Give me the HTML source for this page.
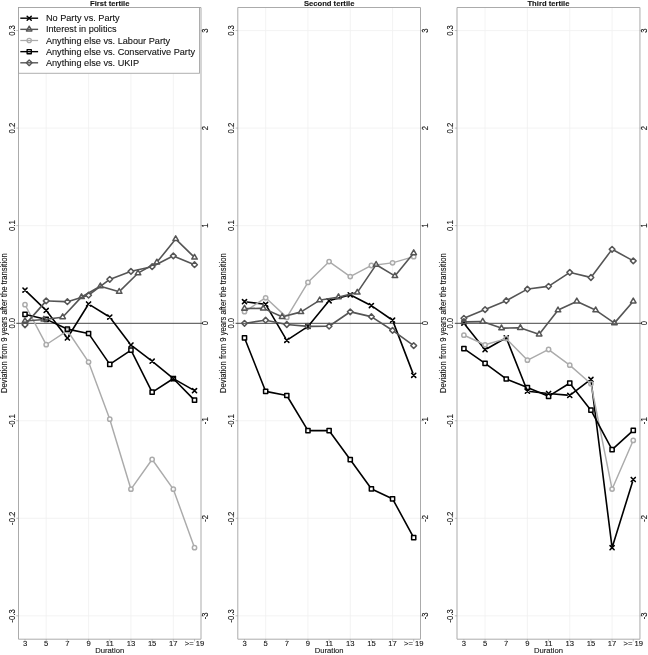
<!DOCTYPE html><html><head><meta charset="utf-8"><title>Tertiles</title><style>html,body{margin:0;padding:0;background:#fff}svg{display:block}</style></head><body><svg width="648" height="655" viewBox="0 0 648 655" font-family="Liberation Sans, sans-serif" font-size="7.65" fill="#111" stroke="#111" stroke-width="0.1">
<rect width="648" height="655" fill="#fff" stroke="none"/>
<line x1="46.19" x2="46.19" y1="7.5" y2="639.2" stroke="#f0f0f0" stroke-width="0.8"/>
<line x1="88.57" x2="88.57" y1="7.5" y2="639.2" stroke="#f0f0f0" stroke-width="0.8"/>
<line x1="130.95" x2="130.95" y1="7.5" y2="639.2" stroke="#f0f0f0" stroke-width="0.8"/>
<line x1="173.33" x2="173.33" y1="7.5" y2="639.2" stroke="#f0f0f0" stroke-width="0.8"/>
<line x1="18.5" x2="201.0" y1="615.85" y2="615.85" stroke="#f0f0f0" stroke-width="0.8"/>
<line x1="18.5" x2="201.0" y1="518.30" y2="518.30" stroke="#f0f0f0" stroke-width="0.8"/>
<line x1="18.5" x2="201.0" y1="420.75" y2="420.75" stroke="#f0f0f0" stroke-width="0.8"/>
<line x1="18.5" x2="201.0" y1="225.65" y2="225.65" stroke="#f0f0f0" stroke-width="0.8"/>
<line x1="18.5" x2="201.0" y1="128.10" y2="128.10" stroke="#f0f0f0" stroke-width="0.8"/>
<line x1="18.5" x2="201.0" y1="30.55" y2="30.55" stroke="#f0f0f0" stroke-width="0.8"/>
<path d="M18.5 639.2L18.5 7.5L201.0 7.5L201.0 639.2Z" stroke="#ababab" stroke-width="1" fill="none"/>
<line x1="16.3" x2="202.8" y1="323.3" y2="323.3" stroke="#3c3c3c" stroke-width="0.95"/>
<line x1="16.3" x2="18.5" y1="615.85" y2="615.85" stroke="#999" stroke-width="0.6"/>
<line x1="201.0" x2="203.0" y1="615.85" y2="615.85" stroke="#999" stroke-width="0.6"/>
<text transform="translate(14.50 615.85) rotate(-90) scale(1 1.2)" text-anchor="middle">-0.3</text>
<text transform="translate(208.30 615.85) rotate(-90) scale(1 1.2)" text-anchor="middle">-3</text>
<line x1="16.3" x2="18.5" y1="518.30" y2="518.30" stroke="#999" stroke-width="0.6"/>
<line x1="201.0" x2="203.0" y1="518.30" y2="518.30" stroke="#999" stroke-width="0.6"/>
<text transform="translate(14.50 518.30) rotate(-90) scale(1 1.2)" text-anchor="middle">-0.2</text>
<text transform="translate(208.30 518.30) rotate(-90) scale(1 1.2)" text-anchor="middle">-2</text>
<line x1="16.3" x2="18.5" y1="420.75" y2="420.75" stroke="#999" stroke-width="0.6"/>
<line x1="201.0" x2="203.0" y1="420.75" y2="420.75" stroke="#999" stroke-width="0.6"/>
<text transform="translate(14.50 420.75) rotate(-90) scale(1 1.2)" text-anchor="middle">-0.1</text>
<text transform="translate(208.30 420.75) rotate(-90) scale(1 1.2)" text-anchor="middle">-1</text>
<text transform="translate(14.50 323.20) rotate(-90) scale(1 1.2)" text-anchor="middle">0.0</text>
<text transform="translate(208.30 323.20) rotate(-90) scale(1 1.2)" text-anchor="middle">0</text>
<line x1="16.3" x2="18.5" y1="225.65" y2="225.65" stroke="#999" stroke-width="0.6"/>
<line x1="201.0" x2="203.0" y1="225.65" y2="225.65" stroke="#999" stroke-width="0.6"/>
<text transform="translate(14.50 225.65) rotate(-90) scale(1 1.2)" text-anchor="middle">0.1</text>
<text transform="translate(208.30 225.65) rotate(-90) scale(1 1.2)" text-anchor="middle">1</text>
<line x1="16.3" x2="18.5" y1="128.10" y2="128.10" stroke="#999" stroke-width="0.6"/>
<line x1="201.0" x2="203.0" y1="128.10" y2="128.10" stroke="#999" stroke-width="0.6"/>
<text transform="translate(14.50 128.10) rotate(-90) scale(1 1.2)" text-anchor="middle">0.2</text>
<text transform="translate(208.30 128.10) rotate(-90) scale(1 1.2)" text-anchor="middle">2</text>
<line x1="16.3" x2="18.5" y1="30.55" y2="30.55" stroke="#999" stroke-width="0.6"/>
<line x1="201.0" x2="203.0" y1="30.55" y2="30.55" stroke="#999" stroke-width="0.6"/>
<text transform="translate(14.50 30.55) rotate(-90) scale(1 1.2)" text-anchor="middle">0.3</text>
<text transform="translate(208.30 30.55) rotate(-90) scale(1 1.2)" text-anchor="middle">3</text>
<text transform="translate(7.10 323.20) rotate(-90) scale(1 1.2)" text-anchor="middle">Deviation from 9 years after the transition</text>
<text x="25.00" y="646" text-anchor="middle">3</text>
<line x1="25.00" x2="25.00" y1="639.2" y2="641.4000000000001" stroke="#999" stroke-width="0.6"/>
<text x="46.19" y="646" text-anchor="middle">5</text>
<line x1="46.19" x2="46.19" y1="639.2" y2="641.4000000000001" stroke="#999" stroke-width="0.6"/>
<text x="67.38" y="646" text-anchor="middle">7</text>
<line x1="67.38" x2="67.38" y1="639.2" y2="641.4000000000001" stroke="#999" stroke-width="0.6"/>
<text x="88.57" y="646" text-anchor="middle">9</text>
<line x1="88.57" x2="88.57" y1="639.2" y2="641.4000000000001" stroke="#999" stroke-width="0.6"/>
<text x="109.76" y="646" text-anchor="middle">11</text>
<line x1="109.76" x2="109.76" y1="639.2" y2="641.4000000000001" stroke="#999" stroke-width="0.6"/>
<text x="130.95" y="646" text-anchor="middle">13</text>
<line x1="130.95" x2="130.95" y1="639.2" y2="641.4000000000001" stroke="#999" stroke-width="0.6"/>
<text x="152.14" y="646" text-anchor="middle">15</text>
<line x1="152.14" x2="152.14" y1="639.2" y2="641.4000000000001" stroke="#999" stroke-width="0.6"/>
<text x="173.33" y="646" text-anchor="middle">17</text>
<line x1="173.33" x2="173.33" y1="639.2" y2="641.4000000000001" stroke="#999" stroke-width="0.6"/>
<text x="194.52" y="646" text-anchor="middle">&gt;= 19</text>
<line x1="194.52" x2="194.52" y1="639.2" y2="641.4000000000001" stroke="#999" stroke-width="0.6"/>
<text x="109.75" y="653.3" text-anchor="middle">Duration</text>
<text x="109.75" y="6.3" text-anchor="middle" font-weight="bold" fill="#111">First tertile</text>
<path d="M26.88 291.90L44.31 308.60M47.77 312.46L65.80 335.94M68.76 335.79L87.19 306.21M90.78 305.37L107.55 315.73M111.33 319.17L129.38 342.93M133.02 346.58L150.07 359.62M154.15 362.85L171.32 376.95M175.59 379.89L192.26 389.41" fill="none" stroke="#000" stroke-width="1.6" stroke-linecap="round"/>
<path d="M22.95 288.05L27.05 292.15M22.95 292.15L27.05 288.05" stroke="#000" stroke-width="1.6" stroke-linecap="round" fill="none"/>
<path d="M44.14 308.35L48.24 312.45M44.14 312.45L48.24 308.35" stroke="#000" stroke-width="1.6" stroke-linecap="round" fill="none"/>
<path d="M65.33 335.95L69.43 340.05M65.33 340.05L69.43 335.95" stroke="#000" stroke-width="1.6" stroke-linecap="round" fill="none"/>
<path d="M86.52 301.95L90.62 306.05M86.52 306.05L90.62 301.95" stroke="#000" stroke-width="1.6" stroke-linecap="round" fill="none"/>
<path d="M107.71 315.05L111.81 319.15M107.71 319.15L111.81 315.05" stroke="#000" stroke-width="1.6" stroke-linecap="round" fill="none"/>
<path d="M128.90 342.95L133.00 347.05M128.90 347.05L133.00 342.95" stroke="#000" stroke-width="1.6" stroke-linecap="round" fill="none"/>
<path d="M150.09 359.15L154.19 363.25M150.09 363.25L154.19 359.15" stroke="#000" stroke-width="1.6" stroke-linecap="round" fill="none"/>
<path d="M171.28 376.55L175.38 380.65M171.28 380.65L175.38 376.55" stroke="#000" stroke-width="1.6" stroke-linecap="round" fill="none"/>
<path d="M192.47 388.65L196.57 392.75M192.47 392.75L196.57 388.65" stroke="#000" stroke-width="1.6" stroke-linecap="round" fill="none"/>
<path d="M26.22 307.00L44.97 342.40M48.35 343.26L65.22 332.04M68.83 332.76L87.12 359.94M89.47 364.54L108.86 416.76M110.51 421.69L130.20 486.71M132.46 487.08L150.63 461.52M153.65 461.52L171.82 487.08M174.22 491.64L193.63 545.26" fill="none" stroke="#ababab" stroke-width="1.45" stroke-linecap="round"/>
<circle cx="25.00" cy="304.70" r="2.15" stroke="#ababab" stroke-width="1.5" fill="none"/>
<circle cx="46.19" cy="344.70" r="2.15" stroke="#ababab" stroke-width="1.5" fill="none"/>
<circle cx="67.38" cy="330.60" r="2.15" stroke="#ababab" stroke-width="1.5" fill="none"/>
<circle cx="88.57" cy="362.10" r="2.15" stroke="#ababab" stroke-width="1.5" fill="none"/>
<circle cx="109.76" cy="419.20" r="2.15" stroke="#ababab" stroke-width="1.5" fill="none"/>
<circle cx="130.95" cy="489.20" r="2.15" stroke="#ababab" stroke-width="1.5" fill="none"/>
<circle cx="152.14" cy="459.40" r="2.15" stroke="#ababab" stroke-width="1.5" fill="none"/>
<circle cx="173.33" cy="489.20" r="2.15" stroke="#ababab" stroke-width="1.5" fill="none"/>
<circle cx="194.52" cy="547.70" r="2.15" stroke="#ababab" stroke-width="1.5" fill="none"/>
<path d="M27.53 314.99L43.66 318.71M48.55 320.39L65.02 328.01M69.93 329.63L86.02 332.97M90.04 335.64L108.29 362.16M111.92 362.85L128.79 351.55M132.12 352.42L150.97 389.88M154.33 390.80L171.14 380.00M175.15 380.46L192.70 398.34" fill="none" stroke="#000" stroke-width="1.6" stroke-linecap="round"/>
<rect x="22.92" y="312.32" width="4.17" height="4.17" stroke="#000" stroke-width="1.5" stroke-linejoin="round" fill="none"/>
<rect x="44.11" y="317.22" width="4.17" height="4.17" stroke="#000" stroke-width="1.5" stroke-linejoin="round" fill="none"/>
<rect x="65.30" y="327.02" width="4.17" height="4.17" stroke="#000" stroke-width="1.5" stroke-linejoin="round" fill="none"/>
<rect x="86.49" y="331.42" width="4.17" height="4.17" stroke="#000" stroke-width="1.5" stroke-linejoin="round" fill="none"/>
<rect x="107.68" y="362.22" width="4.17" height="4.17" stroke="#000" stroke-width="1.5" stroke-linejoin="round" fill="none"/>
<rect x="128.87" y="348.02" width="4.17" height="4.17" stroke="#000" stroke-width="1.5" stroke-linejoin="round" fill="none"/>
<rect x="150.06" y="390.12" width="4.17" height="4.17" stroke="#000" stroke-width="1.5" stroke-linejoin="round" fill="none"/>
<rect x="171.25" y="376.52" width="4.17" height="4.17" stroke="#000" stroke-width="1.5" stroke-linejoin="round" fill="none"/>
<rect x="192.44" y="398.12" width="4.17" height="4.17" stroke="#000" stroke-width="1.5" stroke-linejoin="round" fill="none"/>
<path d="M26.72 322.85L44.47 302.85M48.79 301.00L64.78 301.60M69.87 300.94L86.08 295.96M90.65 293.64L107.68 280.86M112.20 278.39L128.51 272.31M133.49 270.84L149.60 267.26M154.46 265.52L171.01 257.08M175.73 256.90L192.12 263.70" fill="none" stroke="#555" stroke-width="1.6" stroke-linecap="round"/>
<path d="M25.00 321.95L27.85 324.80L25.00 327.65L22.15 324.80Z" stroke="#555" stroke-width="1.5" stroke-linejoin="round" fill="none"/>
<path d="M46.19 298.05L49.04 300.90L46.19 303.75L43.34 300.90Z" stroke="#555" stroke-width="1.5" stroke-linejoin="round" fill="none"/>
<path d="M67.38 298.85L70.23 301.70L67.38 304.55L64.53 301.70Z" stroke="#555" stroke-width="1.5" stroke-linejoin="round" fill="none"/>
<path d="M88.57 292.35L91.42 295.20L88.57 298.05L85.72 295.20Z" stroke="#555" stroke-width="1.5" stroke-linejoin="round" fill="none"/>
<path d="M109.76 276.45L112.61 279.30L109.76 282.15L106.91 279.30Z" stroke="#555" stroke-width="1.5" stroke-linejoin="round" fill="none"/>
<path d="M130.95 268.55L133.80 271.40L130.95 274.25L128.10 271.40Z" stroke="#555" stroke-width="1.5" stroke-linejoin="round" fill="none"/>
<path d="M152.14 263.85L154.99 266.70L152.14 269.55L149.29 266.70Z" stroke="#555" stroke-width="1.5" stroke-linejoin="round" fill="none"/>
<path d="M173.33 253.05L176.18 255.90L173.33 258.75L170.48 255.90Z" stroke="#555" stroke-width="1.5" stroke-linejoin="round" fill="none"/>
<path d="M194.52 261.85L197.37 264.70L194.52 267.55L191.67 264.70Z" stroke="#555" stroke-width="1.5" stroke-linejoin="round" fill="none"/>
<path d="M27.59 320.79L41.24 319.71M46.41 319.17L60.09 317.43M64.45 315.20L79.73 298.90M83.76 295.71L98.09 287.49M102.84 286.93L116.68 290.97M121.03 289.88L136.16 275.02M140.27 271.91L154.59 263.69M158.48 260.37L174.05 241.03M177.54 240.82L192.67 255.68" fill="none" stroke="#555" stroke-width="1.6" stroke-linecap="round"/>
<path d="M25.00 317.80L27.77 322.60L22.23 322.60Z" stroke="#555" stroke-width="1.5" stroke-linejoin="round" fill="none"/>
<path d="M43.84 316.30L46.61 321.10L41.06 321.10Z" stroke="#555" stroke-width="1.5" stroke-linejoin="round" fill="none"/>
<path d="M62.67 313.90L65.44 318.70L59.90 318.70Z" stroke="#555" stroke-width="1.5" stroke-linejoin="round" fill="none"/>
<path d="M81.51 293.80L84.28 298.60L78.74 298.60Z" stroke="#555" stroke-width="1.5" stroke-linejoin="round" fill="none"/>
<path d="M100.34 283.00L103.11 287.80L97.57 287.80Z" stroke="#555" stroke-width="1.5" stroke-linejoin="round" fill="none"/>
<path d="M119.18 288.50L121.95 293.30L116.41 293.30Z" stroke="#555" stroke-width="1.5" stroke-linejoin="round" fill="none"/>
<path d="M138.01 270.00L140.78 274.80L135.24 274.80Z" stroke="#555" stroke-width="1.5" stroke-linejoin="round" fill="none"/>
<path d="M156.85 259.20L159.62 264.00L154.08 264.00Z" stroke="#555" stroke-width="1.5" stroke-linejoin="round" fill="none"/>
<path d="M175.68 235.80L178.46 240.60L172.91 240.60Z" stroke="#555" stroke-width="1.5" stroke-linejoin="round" fill="none"/>
<path d="M194.52 254.30L197.29 259.10L191.75 259.10Z" stroke="#555" stroke-width="1.5" stroke-linejoin="round" fill="none"/>
<line x1="265.65" x2="265.65" y1="7.5" y2="639.2" stroke="#f0f0f0" stroke-width="0.8"/>
<line x1="307.95" x2="307.95" y1="7.5" y2="639.2" stroke="#f0f0f0" stroke-width="0.8"/>
<line x1="350.25" x2="350.25" y1="7.5" y2="639.2" stroke="#f0f0f0" stroke-width="0.8"/>
<line x1="392.55" x2="392.55" y1="7.5" y2="639.2" stroke="#f0f0f0" stroke-width="0.8"/>
<line x1="237.8" x2="420.5" y1="615.85" y2="615.85" stroke="#f0f0f0" stroke-width="0.8"/>
<line x1="237.8" x2="420.5" y1="518.30" y2="518.30" stroke="#f0f0f0" stroke-width="0.8"/>
<line x1="237.8" x2="420.5" y1="420.75" y2="420.75" stroke="#f0f0f0" stroke-width="0.8"/>
<line x1="237.8" x2="420.5" y1="225.65" y2="225.65" stroke="#f0f0f0" stroke-width="0.8"/>
<line x1="237.8" x2="420.5" y1="128.10" y2="128.10" stroke="#f0f0f0" stroke-width="0.8"/>
<line x1="237.8" x2="420.5" y1="30.55" y2="30.55" stroke="#f0f0f0" stroke-width="0.8"/>
<path d="M237.8 639.2L237.8 7.5L420.5 7.5L420.5 639.2Z" stroke="#ababab" stroke-width="1" fill="none"/>
<line x1="235.60000000000002" x2="422.3" y1="323.3" y2="323.3" stroke="#3c3c3c" stroke-width="0.95"/>
<line x1="235.60000000000002" x2="237.8" y1="615.85" y2="615.85" stroke="#999" stroke-width="0.6"/>
<line x1="420.5" x2="422.5" y1="615.85" y2="615.85" stroke="#999" stroke-width="0.6"/>
<text transform="translate(233.80 615.85) rotate(-90) scale(1 1.2)" text-anchor="middle">-0.3</text>
<text transform="translate(427.80 615.85) rotate(-90) scale(1 1.2)" text-anchor="middle">-3</text>
<line x1="235.60000000000002" x2="237.8" y1="518.30" y2="518.30" stroke="#999" stroke-width="0.6"/>
<line x1="420.5" x2="422.5" y1="518.30" y2="518.30" stroke="#999" stroke-width="0.6"/>
<text transform="translate(233.80 518.30) rotate(-90) scale(1 1.2)" text-anchor="middle">-0.2</text>
<text transform="translate(427.80 518.30) rotate(-90) scale(1 1.2)" text-anchor="middle">-2</text>
<line x1="235.60000000000002" x2="237.8" y1="420.75" y2="420.75" stroke="#999" stroke-width="0.6"/>
<line x1="420.5" x2="422.5" y1="420.75" y2="420.75" stroke="#999" stroke-width="0.6"/>
<text transform="translate(233.80 420.75) rotate(-90) scale(1 1.2)" text-anchor="middle">-0.1</text>
<text transform="translate(427.80 420.75) rotate(-90) scale(1 1.2)" text-anchor="middle">-1</text>
<text transform="translate(233.80 323.20) rotate(-90) scale(1 1.2)" text-anchor="middle">0.0</text>
<text transform="translate(427.80 323.20) rotate(-90) scale(1 1.2)" text-anchor="middle">0</text>
<line x1="235.60000000000002" x2="237.8" y1="225.65" y2="225.65" stroke="#999" stroke-width="0.6"/>
<line x1="420.5" x2="422.5" y1="225.65" y2="225.65" stroke="#999" stroke-width="0.6"/>
<text transform="translate(233.80 225.65) rotate(-90) scale(1 1.2)" text-anchor="middle">0.1</text>
<text transform="translate(427.80 225.65) rotate(-90) scale(1 1.2)" text-anchor="middle">1</text>
<line x1="235.60000000000002" x2="237.8" y1="128.10" y2="128.10" stroke="#999" stroke-width="0.6"/>
<line x1="420.5" x2="422.5" y1="128.10" y2="128.10" stroke="#999" stroke-width="0.6"/>
<text transform="translate(233.80 128.10) rotate(-90) scale(1 1.2)" text-anchor="middle">0.2</text>
<text transform="translate(427.80 128.10) rotate(-90) scale(1 1.2)" text-anchor="middle">2</text>
<line x1="235.60000000000002" x2="237.8" y1="30.55" y2="30.55" stroke="#999" stroke-width="0.6"/>
<line x1="420.5" x2="422.5" y1="30.55" y2="30.55" stroke="#999" stroke-width="0.6"/>
<text transform="translate(233.80 30.55) rotate(-90) scale(1 1.2)" text-anchor="middle">0.3</text>
<text transform="translate(427.80 30.55) rotate(-90) scale(1 1.2)" text-anchor="middle">3</text>
<text transform="translate(226.40 323.20) rotate(-90) scale(1 1.2)" text-anchor="middle">Deviation from 9 years after the transition</text>
<text x="244.50" y="646" text-anchor="middle">3</text>
<line x1="244.50" x2="244.50" y1="639.2" y2="641.4000000000001" stroke="#999" stroke-width="0.6"/>
<text x="265.65" y="646" text-anchor="middle">5</text>
<line x1="265.65" x2="265.65" y1="639.2" y2="641.4000000000001" stroke="#999" stroke-width="0.6"/>
<text x="286.80" y="646" text-anchor="middle">7</text>
<line x1="286.80" x2="286.80" y1="639.2" y2="641.4000000000001" stroke="#999" stroke-width="0.6"/>
<text x="307.95" y="646" text-anchor="middle">9</text>
<line x1="307.95" x2="307.95" y1="639.2" y2="641.4000000000001" stroke="#999" stroke-width="0.6"/>
<text x="329.10" y="646" text-anchor="middle">11</text>
<line x1="329.10" x2="329.10" y1="639.2" y2="641.4000000000001" stroke="#999" stroke-width="0.6"/>
<text x="350.25" y="646" text-anchor="middle">13</text>
<line x1="350.25" x2="350.25" y1="639.2" y2="641.4000000000001" stroke="#999" stroke-width="0.6"/>
<text x="371.40" y="646" text-anchor="middle">15</text>
<line x1="371.40" x2="371.40" y1="639.2" y2="641.4000000000001" stroke="#999" stroke-width="0.6"/>
<text x="392.55" y="646" text-anchor="middle">17</text>
<line x1="392.55" x2="392.55" y1="639.2" y2="641.4000000000001" stroke="#999" stroke-width="0.6"/>
<text x="413.70" y="646" text-anchor="middle">&gt;= 19</text>
<line x1="413.70" x2="413.70" y1="639.2" y2="641.4000000000001" stroke="#999" stroke-width="0.6"/>
<text x="329.15" y="653.3" text-anchor="middle">Duration</text>
<text x="329.15" y="6.3" text-anchor="middle" font-weight="bold" fill="#111">Second tertile</text>
<path d="M247.08 302.02L263.07 303.98M266.97 306.54L285.48 338.06M288.97 338.87L305.78 327.83M309.61 324.40L327.44 302.80M331.60 300.09L347.75 295.51M352.57 295.98L369.08 304.42M373.54 307.08L390.41 318.72M393.48 322.63L412.77 372.87" fill="none" stroke="#000" stroke-width="1.6" stroke-linecap="round"/>
<path d="M242.45 299.65L246.55 303.75M242.45 303.75L246.55 299.65" stroke="#000" stroke-width="1.6" stroke-linecap="round" fill="none"/>
<path d="M263.60 302.25L267.70 306.35M263.60 306.35L267.70 302.25" stroke="#000" stroke-width="1.6" stroke-linecap="round" fill="none"/>
<path d="M284.75 338.25L288.85 342.35M284.75 342.35L288.85 338.25" stroke="#000" stroke-width="1.6" stroke-linecap="round" fill="none"/>
<path d="M305.90 324.35L310.00 328.45M305.90 328.45L310.00 324.35" stroke="#000" stroke-width="1.6" stroke-linecap="round" fill="none"/>
<path d="M327.05 298.75L331.15 302.85M327.05 302.85L331.15 298.75" stroke="#000" stroke-width="1.6" stroke-linecap="round" fill="none"/>
<path d="M348.20 292.75L352.30 296.85M348.20 296.85L352.30 292.75" stroke="#000" stroke-width="1.6" stroke-linecap="round" fill="none"/>
<path d="M369.35 303.55L373.45 307.65M369.35 307.65L373.45 303.55" stroke="#000" stroke-width="1.6" stroke-linecap="round" fill="none"/>
<path d="M390.50 318.15L394.60 322.25M390.50 322.25L394.60 318.15" stroke="#000" stroke-width="1.6" stroke-linecap="round" fill="none"/>
<path d="M411.65 373.25L415.75 377.35M411.65 377.35L415.75 373.25" stroke="#000" stroke-width="1.6" stroke-linecap="round" fill="none"/>
<path d="M246.67 310.27L263.48 299.23M267.56 299.57L284.89 315.63M288.14 315.17L306.61 284.63M309.80 280.58L327.25 263.42M331.22 263.10L348.13 275.10M352.55 275.39L369.10 266.71M373.98 265.17L389.97 263.13M395.05 262.08L411.20 257.42" fill="none" stroke="#ababab" stroke-width="1.45" stroke-linecap="round"/>
<circle cx="244.50" cy="311.70" r="2.15" stroke="#ababab" stroke-width="1.5" fill="none"/>
<circle cx="265.65" cy="297.80" r="2.15" stroke="#ababab" stroke-width="1.5" fill="none"/>
<circle cx="286.80" cy="317.40" r="2.15" stroke="#ababab" stroke-width="1.5" fill="none"/>
<circle cx="307.95" cy="282.40" r="2.15" stroke="#ababab" stroke-width="1.5" fill="none"/>
<circle cx="329.10" cy="261.60" r="2.15" stroke="#ababab" stroke-width="1.5" fill="none"/>
<circle cx="350.25" cy="276.60" r="2.15" stroke="#ababab" stroke-width="1.5" fill="none"/>
<circle cx="371.40" cy="265.50" r="2.15" stroke="#ababab" stroke-width="1.5" fill="none"/>
<circle cx="392.55" cy="262.80" r="2.15" stroke="#ababab" stroke-width="1.5" fill="none"/>
<circle cx="413.70" cy="256.70" r="2.15" stroke="#ababab" stroke-width="1.5" fill="none"/>
<path d="M245.45 340.22L264.70 388.98M268.20 391.89L284.25 395.01M288.14 397.73L306.61 428.37M310.55 430.60L326.50 430.60M330.63 432.70L348.72 457.50M351.77 461.71L369.88 486.79M373.75 490.00L390.20 497.70M393.79 501.08L412.46 535.32" fill="none" stroke="#000" stroke-width="1.6" stroke-linecap="round"/>
<rect x="242.42" y="335.72" width="4.17" height="4.17" stroke="#000" stroke-width="1.5" stroke-linejoin="round" fill="none"/>
<rect x="263.57" y="389.32" width="4.17" height="4.17" stroke="#000" stroke-width="1.5" stroke-linejoin="round" fill="none"/>
<rect x="284.72" y="393.42" width="4.17" height="4.17" stroke="#000" stroke-width="1.5" stroke-linejoin="round" fill="none"/>
<rect x="305.87" y="428.52" width="4.17" height="4.17" stroke="#000" stroke-width="1.5" stroke-linejoin="round" fill="none"/>
<rect x="327.02" y="428.52" width="4.17" height="4.17" stroke="#000" stroke-width="1.5" stroke-linejoin="round" fill="none"/>
<rect x="348.17" y="457.52" width="4.17" height="4.17" stroke="#000" stroke-width="1.5" stroke-linejoin="round" fill="none"/>
<rect x="369.32" y="486.82" width="4.17" height="4.17" stroke="#000" stroke-width="1.5" stroke-linejoin="round" fill="none"/>
<rect x="390.47" y="496.72" width="4.17" height="4.17" stroke="#000" stroke-width="1.5" stroke-linejoin="round" fill="none"/>
<rect x="411.62" y="535.52" width="4.17" height="4.17" stroke="#000" stroke-width="1.5" stroke-linejoin="round" fill="none"/>
<path d="M247.07 322.92L263.08 320.58M268.20 320.72L284.25 323.98M289.39 324.73L305.36 326.17M310.55 326.38L326.50 326.22M331.25 324.74L348.10 313.26M352.78 312.39L368.87 316.11M373.58 318.11L390.37 328.99M394.66 331.92L411.59 344.08" fill="none" stroke="#555" stroke-width="1.6" stroke-linecap="round"/>
<path d="M244.50 320.45L247.35 323.30L244.50 326.15L241.65 323.30Z" stroke="#555" stroke-width="1.5" stroke-linejoin="round" fill="none"/>
<path d="M265.65 317.35L268.50 320.20L265.65 323.05L262.80 320.20Z" stroke="#555" stroke-width="1.5" stroke-linejoin="round" fill="none"/>
<path d="M286.80 321.65L289.65 324.50L286.80 327.35L283.95 324.50Z" stroke="#555" stroke-width="1.5" stroke-linejoin="round" fill="none"/>
<path d="M307.95 323.55L310.80 326.40L307.95 329.25L305.10 326.40Z" stroke="#555" stroke-width="1.5" stroke-linejoin="round" fill="none"/>
<path d="M329.10 323.35L331.95 326.20L329.10 329.05L326.25 326.20Z" stroke="#555" stroke-width="1.5" stroke-linejoin="round" fill="none"/>
<path d="M350.25 308.95L353.10 311.80L350.25 314.65L347.40 311.80Z" stroke="#555" stroke-width="1.5" stroke-linejoin="round" fill="none"/>
<path d="M371.40 313.85L374.25 316.70L371.40 319.55L368.55 316.70Z" stroke="#555" stroke-width="1.5" stroke-linejoin="round" fill="none"/>
<path d="M392.55 327.55L395.40 330.40L392.55 333.25L389.70 330.40Z" stroke="#555" stroke-width="1.5" stroke-linejoin="round" fill="none"/>
<path d="M413.70 342.75L416.55 345.60L413.70 348.45L410.85 345.60Z" stroke="#555" stroke-width="1.5" stroke-linejoin="round" fill="none"/>
<path d="M247.10 308.56L260.70 308.34M265.67 309.37L279.73 315.73M284.62 316.16L298.38 312.64M303.10 310.62L317.50 301.58M322.27 299.78L335.93 297.52M341.03 296.48L354.77 293.12M358.76 290.35L374.64 266.85M378.33 266.04L392.67 274.66M396.55 273.99L412.05 255.11" fill="none" stroke="#555" stroke-width="1.6" stroke-linecap="round"/>
<path d="M244.50 305.40L247.27 310.20L241.73 310.20Z" stroke="#555" stroke-width="1.5" stroke-linejoin="round" fill="none"/>
<path d="M263.30 305.10L266.07 309.90L260.53 309.90Z" stroke="#555" stroke-width="1.5" stroke-linejoin="round" fill="none"/>
<path d="M282.10 313.60L284.87 318.40L279.33 318.40Z" stroke="#555" stroke-width="1.5" stroke-linejoin="round" fill="none"/>
<path d="M300.90 308.80L303.67 313.60L298.13 313.60Z" stroke="#555" stroke-width="1.5" stroke-linejoin="round" fill="none"/>
<path d="M319.70 297.00L322.47 301.80L316.93 301.80Z" stroke="#555" stroke-width="1.5" stroke-linejoin="round" fill="none"/>
<path d="M338.50 293.90L341.27 298.70L335.73 298.70Z" stroke="#555" stroke-width="1.5" stroke-linejoin="round" fill="none"/>
<path d="M357.30 289.30L360.07 294.10L354.53 294.10Z" stroke="#555" stroke-width="1.5" stroke-linejoin="round" fill="none"/>
<path d="M376.10 261.50L378.87 266.30L373.33 266.30Z" stroke="#555" stroke-width="1.5" stroke-linejoin="round" fill="none"/>
<path d="M394.90 272.80L397.67 277.60L392.13 277.60Z" stroke="#555" stroke-width="1.5" stroke-linejoin="round" fill="none"/>
<path d="M413.70 249.90L416.47 254.70L410.93 254.70Z" stroke="#555" stroke-width="1.5" stroke-linejoin="round" fill="none"/>
<line x1="485.07" x2="485.07" y1="7.5" y2="639.2" stroke="#f0f0f0" stroke-width="0.8"/>
<line x1="527.41" x2="527.41" y1="7.5" y2="639.2" stroke="#f0f0f0" stroke-width="0.8"/>
<line x1="569.75" x2="569.75" y1="7.5" y2="639.2" stroke="#f0f0f0" stroke-width="0.8"/>
<line x1="612.09" x2="612.09" y1="7.5" y2="639.2" stroke="#f0f0f0" stroke-width="0.8"/>
<line x1="457.0" x2="639.95" y1="615.85" y2="615.85" stroke="#f0f0f0" stroke-width="0.8"/>
<line x1="457.0" x2="639.95" y1="518.30" y2="518.30" stroke="#f0f0f0" stroke-width="0.8"/>
<line x1="457.0" x2="639.95" y1="420.75" y2="420.75" stroke="#f0f0f0" stroke-width="0.8"/>
<line x1="457.0" x2="639.95" y1="225.65" y2="225.65" stroke="#f0f0f0" stroke-width="0.8"/>
<line x1="457.0" x2="639.95" y1="128.10" y2="128.10" stroke="#f0f0f0" stroke-width="0.8"/>
<line x1="457.0" x2="639.95" y1="30.55" y2="30.55" stroke="#f0f0f0" stroke-width="0.8"/>
<path d="M457.0 639.2L457.0 7.5L639.95 7.5L639.95 639.2Z" stroke="#ababab" stroke-width="1" fill="none"/>
<line x1="454.8" x2="641.75" y1="323.3" y2="323.3" stroke="#3c3c3c" stroke-width="0.95"/>
<line x1="454.8" x2="457.0" y1="615.85" y2="615.85" stroke="#999" stroke-width="0.6"/>
<line x1="639.95" x2="641.95" y1="615.85" y2="615.85" stroke="#999" stroke-width="0.6"/>
<text transform="translate(453.00 615.85) rotate(-90) scale(1 1.2)" text-anchor="middle">-0.3</text>
<text transform="translate(647.25 615.85) rotate(-90) scale(1 1.2)" text-anchor="middle">-3</text>
<line x1="454.8" x2="457.0" y1="518.30" y2="518.30" stroke="#999" stroke-width="0.6"/>
<line x1="639.95" x2="641.95" y1="518.30" y2="518.30" stroke="#999" stroke-width="0.6"/>
<text transform="translate(453.00 518.30) rotate(-90) scale(1 1.2)" text-anchor="middle">-0.2</text>
<text transform="translate(647.25 518.30) rotate(-90) scale(1 1.2)" text-anchor="middle">-2</text>
<line x1="454.8" x2="457.0" y1="420.75" y2="420.75" stroke="#999" stroke-width="0.6"/>
<line x1="639.95" x2="641.95" y1="420.75" y2="420.75" stroke="#999" stroke-width="0.6"/>
<text transform="translate(453.00 420.75) rotate(-90) scale(1 1.2)" text-anchor="middle">-0.1</text>
<text transform="translate(647.25 420.75) rotate(-90) scale(1 1.2)" text-anchor="middle">-1</text>
<text transform="translate(453.00 323.20) rotate(-90) scale(1 1.2)" text-anchor="middle">0.0</text>
<text transform="translate(647.25 323.20) rotate(-90) scale(1 1.2)" text-anchor="middle">0</text>
<line x1="454.8" x2="457.0" y1="225.65" y2="225.65" stroke="#999" stroke-width="0.6"/>
<line x1="639.95" x2="641.95" y1="225.65" y2="225.65" stroke="#999" stroke-width="0.6"/>
<text transform="translate(453.00 225.65) rotate(-90) scale(1 1.2)" text-anchor="middle">0.1</text>
<text transform="translate(647.25 225.65) rotate(-90) scale(1 1.2)" text-anchor="middle">1</text>
<line x1="454.8" x2="457.0" y1="128.10" y2="128.10" stroke="#999" stroke-width="0.6"/>
<line x1="639.95" x2="641.95" y1="128.10" y2="128.10" stroke="#999" stroke-width="0.6"/>
<text transform="translate(453.00 128.10) rotate(-90) scale(1 1.2)" text-anchor="middle">0.2</text>
<text transform="translate(647.25 128.10) rotate(-90) scale(1 1.2)" text-anchor="middle">2</text>
<line x1="454.8" x2="457.0" y1="30.55" y2="30.55" stroke="#999" stroke-width="0.6"/>
<line x1="639.95" x2="641.95" y1="30.55" y2="30.55" stroke="#999" stroke-width="0.6"/>
<text transform="translate(453.00 30.55) rotate(-90) scale(1 1.2)" text-anchor="middle">0.3</text>
<text transform="translate(647.25 30.55) rotate(-90) scale(1 1.2)" text-anchor="middle">3</text>
<text transform="translate(445.60 323.20) rotate(-90) scale(1 1.2)" text-anchor="middle">Deviation from 9 years after the transition</text>
<text x="463.90" y="646" text-anchor="middle">3</text>
<line x1="463.90" x2="463.90" y1="639.2" y2="641.4000000000001" stroke="#999" stroke-width="0.6"/>
<text x="485.07" y="646" text-anchor="middle">5</text>
<line x1="485.07" x2="485.07" y1="639.2" y2="641.4000000000001" stroke="#999" stroke-width="0.6"/>
<text x="506.24" y="646" text-anchor="middle">7</text>
<line x1="506.24" x2="506.24" y1="639.2" y2="641.4000000000001" stroke="#999" stroke-width="0.6"/>
<text x="527.41" y="646" text-anchor="middle">9</text>
<line x1="527.41" x2="527.41" y1="639.2" y2="641.4000000000001" stroke="#999" stroke-width="0.6"/>
<text x="548.58" y="646" text-anchor="middle">11</text>
<line x1="548.58" x2="548.58" y1="639.2" y2="641.4000000000001" stroke="#999" stroke-width="0.6"/>
<text x="569.75" y="646" text-anchor="middle">13</text>
<line x1="569.75" x2="569.75" y1="639.2" y2="641.4000000000001" stroke="#999" stroke-width="0.6"/>
<text x="590.92" y="646" text-anchor="middle">15</text>
<line x1="590.92" x2="590.92" y1="639.2" y2="641.4000000000001" stroke="#999" stroke-width="0.6"/>
<text x="612.09" y="646" text-anchor="middle">17</text>
<line x1="612.09" x2="612.09" y1="639.2" y2="641.4000000000001" stroke="#999" stroke-width="0.6"/>
<text x="633.26" y="646" text-anchor="middle">&gt;= 19</text>
<line x1="633.26" x2="633.26" y1="639.2" y2="641.4000000000001" stroke="#999" stroke-width="0.6"/>
<text x="548.48" y="653.3" text-anchor="middle">Duration</text>
<text x="548.48" y="6.3" text-anchor="middle" font-weight="bold" fill="#111">Third tertile</text>
<path d="M465.52 325.13L483.45 347.67M487.34 348.43L503.97 339.07M507.20 340.22L526.45 388.78M529.99 391.48L546.00 393.22M551.17 393.73L567.16 395.17M571.82 393.83L588.85 380.97M591.24 381.98L611.77 545.12M612.86 545.22L632.49 481.98" fill="none" stroke="#000" stroke-width="1.6" stroke-linecap="round"/>
<path d="M461.85 321.05L465.95 325.15M461.85 325.15L465.95 321.05" stroke="#000" stroke-width="1.6" stroke-linecap="round" fill="none"/>
<path d="M483.02 347.65L487.12 351.75M483.02 351.75L487.12 347.65" stroke="#000" stroke-width="1.6" stroke-linecap="round" fill="none"/>
<path d="M504.19 335.75L508.29 339.85M504.19 339.85L508.29 335.75" stroke="#000" stroke-width="1.6" stroke-linecap="round" fill="none"/>
<path d="M525.36 389.15L529.46 393.25M525.36 393.25L529.46 389.15" stroke="#000" stroke-width="1.6" stroke-linecap="round" fill="none"/>
<path d="M546.53 391.45L550.63 395.55M546.53 395.55L550.63 391.45" stroke="#000" stroke-width="1.6" stroke-linecap="round" fill="none"/>
<path d="M567.70 393.35L571.80 397.45M567.70 397.45L571.80 393.35" stroke="#000" stroke-width="1.6" stroke-linecap="round" fill="none"/>
<path d="M588.87 377.35L592.97 381.45M588.87 381.45L592.97 377.35" stroke="#000" stroke-width="1.6" stroke-linecap="round" fill="none"/>
<path d="M610.04 545.65L614.14 549.75M610.04 549.75L614.14 545.65" stroke="#000" stroke-width="1.6" stroke-linecap="round" fill="none"/>
<path d="M631.21 477.45L635.31 481.55M631.21 481.55L635.31 477.45" stroke="#000" stroke-width="1.6" stroke-linecap="round" fill="none"/>
<path d="M466.27 336.27L482.70 343.73M487.57 344.07L503.74 339.33M508.06 340.46L525.59 358.34M529.73 359.03L546.26 350.67M550.67 351.05L567.66 363.65M571.71 366.91L588.96 381.99M591.43 386.25L611.58 486.55M613.13 486.72L632.22 442.78" fill="none" stroke="#ababab" stroke-width="1.45" stroke-linecap="round"/>
<circle cx="463.90" cy="335.20" r="2.15" stroke="#ababab" stroke-width="1.5" fill="none"/>
<circle cx="485.07" cy="344.80" r="2.15" stroke="#ababab" stroke-width="1.5" fill="none"/>
<circle cx="506.24" cy="338.60" r="2.15" stroke="#ababab" stroke-width="1.5" fill="none"/>
<circle cx="527.41" cy="360.20" r="2.15" stroke="#ababab" stroke-width="1.5" fill="none"/>
<circle cx="548.58" cy="349.50" r="2.15" stroke="#ababab" stroke-width="1.5" fill="none"/>
<circle cx="569.75" cy="365.20" r="2.15" stroke="#ababab" stroke-width="1.5" fill="none"/>
<circle cx="590.92" cy="383.70" r="2.15" stroke="#ababab" stroke-width="1.5" fill="none"/>
<circle cx="612.09" cy="489.10" r="2.15" stroke="#ababab" stroke-width="1.5" fill="none"/>
<circle cx="633.26" cy="440.40" r="2.15" stroke="#ababab" stroke-width="1.5" fill="none"/>
<path d="M466.04 350.08L482.93 361.82M487.16 364.85L504.15 377.45M508.65 379.97L525.00 386.53M529.81 388.50L546.18 395.30M550.79 394.92L567.54 384.48M571.35 385.15L589.32 408.15M592.15 412.49L610.86 447.31M614.02 447.85L631.33 432.15" fill="none" stroke="#000" stroke-width="1.6" stroke-linecap="round"/>
<rect x="461.82" y="346.52" width="4.17" height="4.17" stroke="#000" stroke-width="1.5" stroke-linejoin="round" fill="none"/>
<rect x="482.99" y="361.22" width="4.17" height="4.17" stroke="#000" stroke-width="1.5" stroke-linejoin="round" fill="none"/>
<rect x="504.16" y="376.92" width="4.17" height="4.17" stroke="#000" stroke-width="1.5" stroke-linejoin="round" fill="none"/>
<rect x="525.33" y="385.42" width="4.17" height="4.17" stroke="#000" stroke-width="1.5" stroke-linejoin="round" fill="none"/>
<rect x="546.50" y="394.22" width="4.17" height="4.17" stroke="#000" stroke-width="1.5" stroke-linejoin="round" fill="none"/>
<rect x="567.67" y="381.02" width="4.17" height="4.17" stroke="#000" stroke-width="1.5" stroke-linejoin="round" fill="none"/>
<rect x="588.84" y="408.12" width="4.17" height="4.17" stroke="#000" stroke-width="1.5" stroke-linejoin="round" fill="none"/>
<rect x="610.01" y="447.52" width="4.17" height="4.17" stroke="#000" stroke-width="1.5" stroke-linejoin="round" fill="none"/>
<rect x="631.18" y="428.32" width="4.17" height="4.17" stroke="#000" stroke-width="1.5" stroke-linejoin="round" fill="none"/>
<path d="M466.30 317.31L482.67 310.59M487.47 308.59L503.84 301.71M508.52 299.45L525.13 290.35M529.99 288.76L546.00 286.64M550.75 284.87L567.58 273.83M572.28 273.01L588.39 276.89M592.48 275.42L610.53 251.38M614.37 250.55L630.98 259.65" fill="none" stroke="#555" stroke-width="1.6" stroke-linecap="round"/>
<path d="M463.90 315.45L466.75 318.30L463.90 321.15L461.05 318.30Z" stroke="#555" stroke-width="1.5" stroke-linejoin="round" fill="none"/>
<path d="M485.07 306.75L487.92 309.60L485.07 312.45L482.22 309.60Z" stroke="#555" stroke-width="1.5" stroke-linejoin="round" fill="none"/>
<path d="M506.24 297.85L509.09 300.70L506.24 303.55L503.39 300.70Z" stroke="#555" stroke-width="1.5" stroke-linejoin="round" fill="none"/>
<path d="M527.41 286.25L530.26 289.10L527.41 291.95L524.56 289.10Z" stroke="#555" stroke-width="1.5" stroke-linejoin="round" fill="none"/>
<path d="M548.58 283.45L551.43 286.30L548.58 289.15L545.73 286.30Z" stroke="#555" stroke-width="1.5" stroke-linejoin="round" fill="none"/>
<path d="M569.75 269.55L572.60 272.40L569.75 275.25L566.90 272.40Z" stroke="#555" stroke-width="1.5" stroke-linejoin="round" fill="none"/>
<path d="M590.92 274.65L593.77 277.50L590.92 280.35L588.07 277.50Z" stroke="#555" stroke-width="1.5" stroke-linejoin="round" fill="none"/>
<path d="M612.09 246.45L614.94 249.30L612.09 252.15L609.24 249.30Z" stroke="#555" stroke-width="1.5" stroke-linejoin="round" fill="none"/>
<path d="M633.26 258.05L636.11 260.90L633.26 263.75L630.41 260.90Z" stroke="#555" stroke-width="1.5" stroke-linejoin="round" fill="none"/>
<path d="M466.50 321.86L480.12 321.64M485.17 322.46L499.08 327.34M504.13 328.14L517.75 327.86M522.81 328.65L536.71 333.45M540.77 332.25L556.39 312.25M560.34 309.09L574.46 302.41M579.16 302.41L593.27 309.09M597.77 311.67L612.30 321.63M616.14 321.13L631.56 303.27" fill="none" stroke="#555" stroke-width="1.6" stroke-linecap="round"/>
<path d="M463.90 318.70L466.67 323.50L461.13 323.50Z" stroke="#555" stroke-width="1.5" stroke-linejoin="round" fill="none"/>
<path d="M482.72 318.40L485.49 323.20L479.95 323.20Z" stroke="#555" stroke-width="1.5" stroke-linejoin="round" fill="none"/>
<path d="M501.54 325.00L504.31 329.80L498.76 329.80Z" stroke="#555" stroke-width="1.5" stroke-linejoin="round" fill="none"/>
<path d="M520.35 324.60L523.12 329.40L517.58 329.40Z" stroke="#555" stroke-width="1.5" stroke-linejoin="round" fill="none"/>
<path d="M539.17 331.10L541.94 335.90L536.40 335.90Z" stroke="#555" stroke-width="1.5" stroke-linejoin="round" fill="none"/>
<path d="M557.99 307.00L560.76 311.80L555.22 311.80Z" stroke="#555" stroke-width="1.5" stroke-linejoin="round" fill="none"/>
<path d="M576.81 298.10L579.58 302.90L574.04 302.90Z" stroke="#555" stroke-width="1.5" stroke-linejoin="round" fill="none"/>
<path d="M595.62 307.00L598.40 311.80L592.85 311.80Z" stroke="#555" stroke-width="1.5" stroke-linejoin="round" fill="none"/>
<path d="M614.44 319.90L617.21 324.70L611.67 324.70Z" stroke="#555" stroke-width="1.5" stroke-linejoin="round" fill="none"/>
<path d="M633.26 298.10L636.03 302.90L630.49 302.90Z" stroke="#555" stroke-width="1.5" stroke-linejoin="round" fill="none"/>
<rect x="18.5" y="7.5" width="180.95" height="65.75" fill="#fff" stroke="#a0a0a0" stroke-width="0.85"/>
<line x1="20.3" x2="38.1" y1="18.20" y2="18.20" stroke="#000" stroke-width="1.4000000000000001"/>
<path d="M27.15 16.15L31.25 20.25M27.15 20.25L31.25 16.15" stroke="#000" stroke-width="1.4500000000000002" stroke-linecap="round" fill="none"/>
<text x="45.9" y="21.25" font-size="9.17" fill="#111">No Party vs. Party</text>
<line x1="20.3" x2="38.1" y1="29.35" y2="29.35" stroke="#555" stroke-width="1.4000000000000001"/>
<path d="M29.20 26.15L31.97 30.95L26.43 30.95Z" stroke="#555" stroke-width="1.35" stroke-linejoin="round" fill="none"/>
<text x="45.9" y="32.40" font-size="9.17" fill="#111">Interest in politics</text>
<line x1="20.3" x2="38.1" y1="40.50" y2="40.50" stroke="#ababab" stroke-width="1.25"/>
<circle cx="29.20" cy="40.50" r="2.15" stroke="#ababab" stroke-width="1.35" fill="none"/>
<text x="45.9" y="43.55" font-size="9.17" fill="#111">Anything else vs. Labour Party</text>
<line x1="20.3" x2="38.1" y1="51.65" y2="51.65" stroke="#000" stroke-width="1.4000000000000001"/>
<rect x="27.12" y="49.57" width="4.17" height="4.17" stroke="#000" stroke-width="1.35" stroke-linejoin="round" fill="none"/>
<text x="45.9" y="54.70" font-size="9.17" fill="#111">Anything else vs. Conservative Party</text>
<line x1="20.3" x2="38.1" y1="62.80" y2="62.80" stroke="#555" stroke-width="1.4000000000000001"/>
<path d="M29.20 59.95L32.05 62.80L29.20 65.65L26.35 62.80Z" stroke="#555" stroke-width="1.35" stroke-linejoin="round" fill="none"/>
<text x="45.9" y="65.85" font-size="9.17" fill="#111">Anything else vs. UKIP</text>
</svg></body></html>
